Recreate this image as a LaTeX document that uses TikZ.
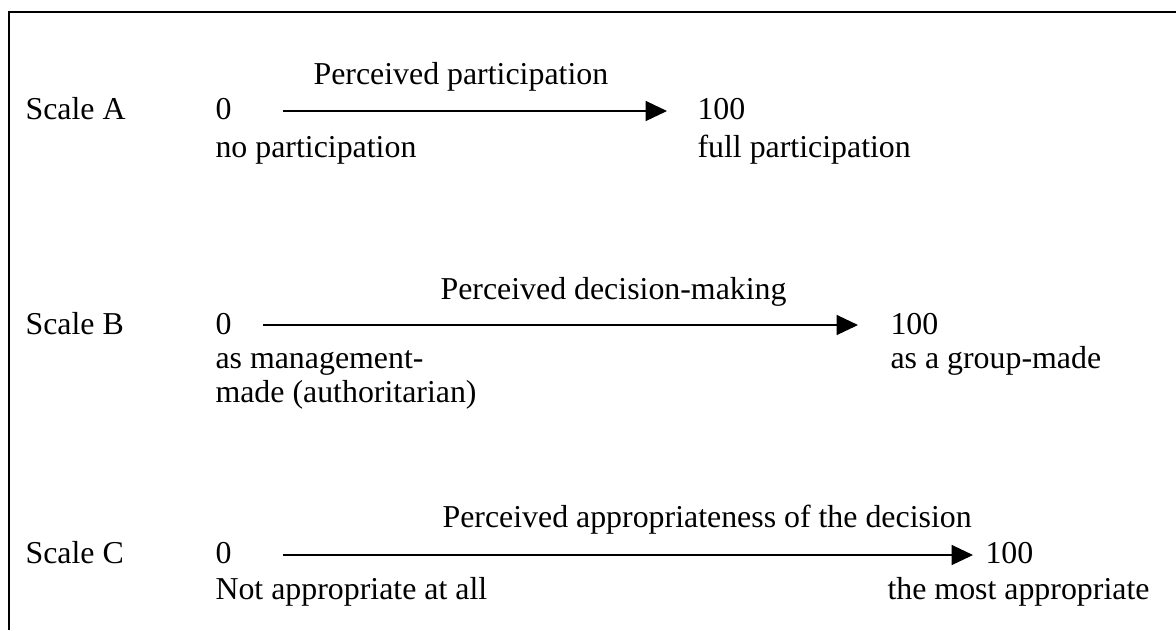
\documentclass[tikz,border=0pt]{standalone}
\usepackage{fontspec}
\setmainfont{Liberation Serif}
\usetikzlibrary{arrows.meta}
\begin{document}
\begin{tikzpicture}[x=0.375pt,y=-0.375pt,
  lbl/.style={anchor=base west,inner sep=0pt,font=\fontsize{11.95pt}{14pt}\selectfont},
  frameline/.style={line width=0.9pt},
  scalearrow/.style={line width=0.5pt,-{Triangle[length=8pt,width=7.5pt]}}]
\useasboundingbox (0,0) rectangle (1176,630);
% frame
\coordinate (fl) at (9,630);
\coordinate (fc) at (9,12);
\coordinate (fr) at (1176,12);
\draw[frameline] (fl) -- (fc) -- (fr);
% Scale A
\node[lbl] (tA) at (313,84) {Perceived participation};
\node[lbl] (sA) at (25,119) {Scale A};
\node[lbl] (zA) at (215,119) {0};
\node[lbl] (hA) at (697,119) {100};
\node[lbl] (lA) at (215,157) {no participation};
\node[lbl] (rA) at (697,157) {full participation};
\coordinate (aA1) at (283,111);
\coordinate (aA2) at (667,111);
\draw[scalearrow] (aA1) -- (aA2);
% Scale B
\node[lbl] (tB) at (440,299) {Perceived decision-making};
\node[lbl] (sB) at (25,334) {Scale B};
\node[lbl] (zB) at (215,334) {0};
\node[lbl] (hB) at (890,334) {100};
\node[lbl] (lB) at (215,368) {as management-};
\node[lbl] (lB2) at (215,402) {made (authoritarian)};
\node[lbl] (rB) at (890,368) {as a group-made};
\coordinate (aB1) at (263,325);
\coordinate (aB2) at (858,325);
\draw[scalearrow] (aB1) -- (aB2);
% Scale C
\node[lbl] (tC) at (442,527) {Perceived appropriateness of the decision};
\node[lbl] (sC) at (25,563) {Scale C};
\node[lbl] (zC) at (215,563) {0};
\node[lbl] (hC) at (985,563) {100};
\node[lbl] (lC) at (215,599) {Not appropriate at all};
\node[lbl] (rC) at (887,599) {the most appropriate};
\coordinate (aC1) at (283,555);
\coordinate (aC2) at (973,555);
\draw[scalearrow] (aC1) -- (aC2);
\end{tikzpicture}
\end{document}
